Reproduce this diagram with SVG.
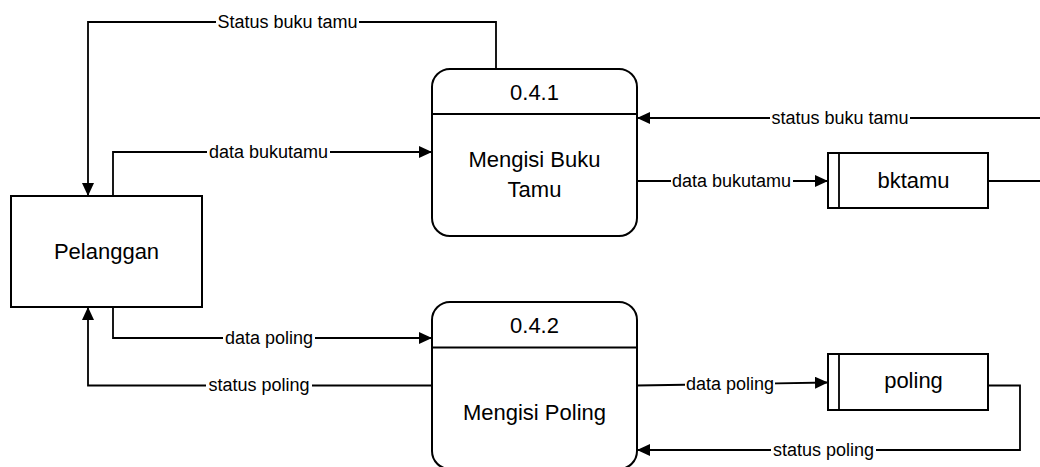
<svg xmlns="http://www.w3.org/2000/svg" width="1040" height="467" viewBox="0 0 1040 467">
  <defs>
    <marker id="arrow" viewBox="0 0 13 12" refX="13" refY="6" markerWidth="13" markerHeight="12" markerUnits="userSpaceOnUse" orient="auto">
      <path d="M0,0 L13,6 L0,12 Z" fill="#000"/>
    </marker>
    <style>
      .shape { fill: #fff; stroke: #000; stroke-width: 2; }
      .line { fill: none; stroke: #000; stroke-width: 1.8; }
      .arr { marker-end: url(#arrow); }
      .node-text { font-family: "Liberation Sans", Arial, sans-serif; font-size: 22px; fill: #000; text-anchor: middle; }
      .label { font-family: "Liberation Sans", Arial, sans-serif; font-size: 18px; fill: #000; text-anchor: middle; }
      .label-bg { fill: #fff; }
    </style>
  </defs>
  <rect width="1040" height="467" fill="#fff"/>

  <!-- data flows -->
  <g id="connectors">
    <!-- Status buku tamu: 0.4.1 -> Pelanggan -->
    <path class="line arr" d="M496,69 V22 H88 V196"/>
    <rect class="label-bg" x="216" y="12" width="143" height="20"/>
    <text class="label" x="287.5" y="28">Status buku tamu</text>

    <!-- data bukutamu: Pelanggan -> 0.4.1 -->
    <path class="line arr" d="M113,196 V152 H432"/>
    <rect class="label-bg" x="207" y="142" width="123" height="20"/>
    <text class="label" x="268.5" y="158">data bukutamu</text>

    <!-- status buku tamu: store side -> 0.4.1 -->
    <path class="line arr" d="M1040,118 H637"/>
    <rect class="label-bg" x="770" y="108" width="140" height="20"/>
    <text class="label" x="840" y="124">status buku tamu</text>

    <!-- data bukutamu: 0.4.1 -> bktamu -->
    <path class="line arr" d="M637,181 H828"/>
    <rect class="label-bg" x="671" y="171" width="122" height="20"/>
    <text class="label" x="731.5" y="187">data bukutamu</text>

    <!-- bktamu outgoing -->
    <path class="line" d="M988,181 H1040"/>

    <!-- data poling: Pelanggan -> 0.4.2 -->
    <path class="line arr" d="M113,307 V338 H432"/>
    <rect class="label-bg" x="223" y="328" width="92" height="20"/>
    <text class="label" x="269" y="344">data poling</text>

    <!-- status poling: 0.4.2 -> Pelanggan -->
    <path class="line arr" d="M432,385.5 H88 V307"/>
    <rect class="label-bg" x="206" y="375" width="106" height="20"/>
    <text class="label" x="259" y="391">status poling</text>

    <!-- data poling: 0.4.2 -> poling -->
    <path class="line arr" d="M637,385.5 L828,382.5"/>
    <rect class="label-bg" x="685" y="374" width="90" height="20"/>
    <text class="label" x="730" y="390">data poling</text>

    <!-- status poling: poling -> 0.4.2 -->
    <path class="line arr" d="M988,385.5 H1020 V450 H637"/>
    <rect class="label-bg" x="771" y="440" width="105" height="20"/>
    <text class="label" x="823.5" y="456">status poling</text>
  </g>

  <!-- external entity -->
  <g id="pelanggan">
    <rect class="shape" x="11" y="196" width="191" height="111"/>
    <text class="node-text" x="106.5" y="259">Pelanggan</text>
  </g>

  <!-- process 0.4.1 -->
  <g id="proses-041">
    <rect class="shape" x="432" y="69" width="205" height="167" rx="18" ry="18"/>
    <line class="line" x1="432" y1="114" x2="637" y2="114" stroke-width="2"/>
    <text class="node-text" x="534.5" y="100">0.4.1</text>
    <text class="node-text" x="534.5" y="167">Mengisi Buku</text>
    <text class="node-text" x="534.5" y="197">Tamu</text>
  </g>

  <!-- process 0.4.2 -->
  <g id="proses-042">
    <rect class="shape" x="432" y="302" width="205" height="167" rx="18" ry="18"/>
    <line class="line" x1="432" y1="347.5" x2="637" y2="347.5" stroke-width="2"/>
    <text class="node-text" x="534.5" y="333">0.4.2</text>
    <text class="node-text" x="534.5" y="420">Mengisi Poling</text>
  </g>

  <!-- data store bktamu -->
  <g id="store-bktamu">
    <rect class="shape" x="828" y="153" width="160" height="55"/>
    <line class="line" x1="839" y1="153" x2="839" y2="208" stroke-width="2"/>
    <text class="node-text" x="913.5" y="188">bktamu</text>
  </g>

  <!-- data store poling -->
  <g id="store-poling">
    <rect class="shape" x="828" y="354" width="160" height="56"/>
    <line class="line" x1="839" y1="354" x2="839" y2="410" stroke-width="2"/>
    <text class="node-text" x="913.5" y="388">poling</text>
  </g>
</svg>
